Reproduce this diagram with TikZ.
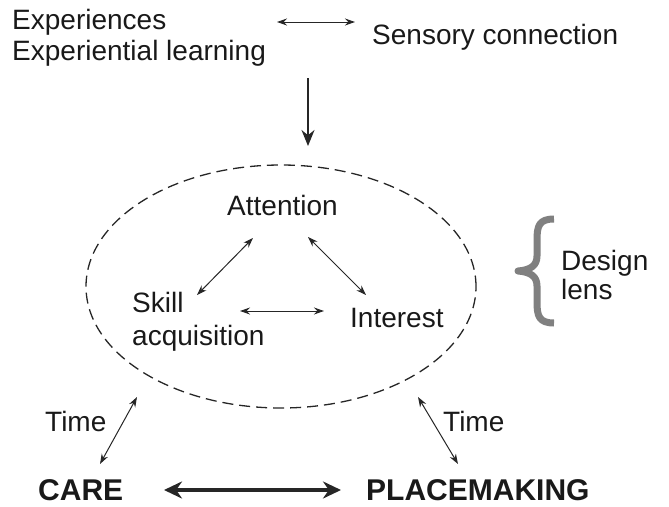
\documentclass[tikz,border=0pt]{standalone}
\usepackage{fontspec}
\setmainfont{Liberation Sans}
\usetikzlibrary{arrows.meta,shapes.geometric}
\begin{document}
\begin{tikzpicture}[x=1pt,y=-1pt,
  txt/.style={inner sep=0pt, anchor=base west, font=\fontsize{28}{32}\selectfont, text=black!90},
  boldtxt/.style={inner sep=0pt, anchor=base west, font=\fontsize{30}{34}\selectfont\bfseries, text=black!90},
  thinarrow/.style={line width=1pt, draw=black!85, {Stealth[length=10pt,width=7pt]}-{Stealth[length=10pt,width=7pt]}},
  downarrow/.style={line width=2pt, draw=black!85, -{Stealth[length=16pt,width=13pt]}},
  thickarrow/.style={line width=3.2pt, draw=black!85, {Stealth[length=18pt,width=17pt]}-{Stealth[length=18pt,width=17pt]}},
  lensoval/.style={ellipse, draw=black!85, line width=1.3pt, dash pattern=on 11pt off 6pt, minimum width=390pt, minimum height=243pt, inner sep=0pt},
  bracestyle/.style={draw=black!50, line width=7pt, line join=round}
]
\useasboundingbox (0,0) rectangle (669,506);

% texts
\node[txt] (exp1) at (12,29) {Experiences};
\node[txt] (exp2) at (12,60) {Experiential learning};
\node[txt] (sens) at (372,44) {Sensory connection};
\node[txt] (att) at (227,215) {Attention};
\node[txt] (skill) at (132,312) {Skill};
\node[txt] (acq) at (132,345) {acquisition};
\node[txt] (int) at (350,327) {Interest};
\node[txt] (design) at (561,270) {Design};
\node[txt] (lens) at (561,299) {lens};
\node[txt] (time1) at (45,431) {Time};
\node[txt] (time2) at (443,431) {Time};
\node[boldtxt] (care) at (38,500) {CARE};
\node[boldtxt] (place) at (366,500) {PLACEMAKING};

\node[lensoval] (oval) at (281,286.5) {};

% connector end points
\coordinate (expR) at (277,22);
\coordinate (sensL) at (355,22);
\coordinate (downS) at (308,78);
\coordinate (downE) at (308,146);
\coordinate (attSW) at (253,238);
\coordinate (skillNE) at (197,295);
\coordinate (attSE) at (308,237);
\coordinate (intNW) at (366,295);
\coordinate (skillE) at (240,311);
\coordinate (intW) at (324,311);
\coordinate (ovalL) at (137,397);
\coordinate (careT) at (100,464);
\coordinate (ovalR) at (418,397);
\coordinate (placeT) at (458,464);
\coordinate (careR) at (164,490);
\coordinate (placeL) at (341,490);

\draw[thinarrow] (expR) -- (sensL);
\draw[downarrow] (downS) -- (downE);
\draw[thinarrow] (attSW) -- (skillNE);
\draw[thinarrow] (attSE) -- (intNW);
\draw[thinarrow] (skillE) -- (intW);
\draw[thinarrow] (ovalL) -- (careT);
\draw[thinarrow] (ovalR) -- (placeT);
\draw[thickarrow] (careR) -- (placeL);

% brace
\draw[bracestyle] (554,219) .. controls (539,219) and (537,226) .. (537,240)
  -- (537,256) .. controls (537,266) and (530,270) .. (518,271)
  .. controls (530,272) and (537,276) .. (537,286)
  -- (537,302) .. controls (537,316) and (539,323) .. (554,323);
\end{tikzpicture}
\end{document}
